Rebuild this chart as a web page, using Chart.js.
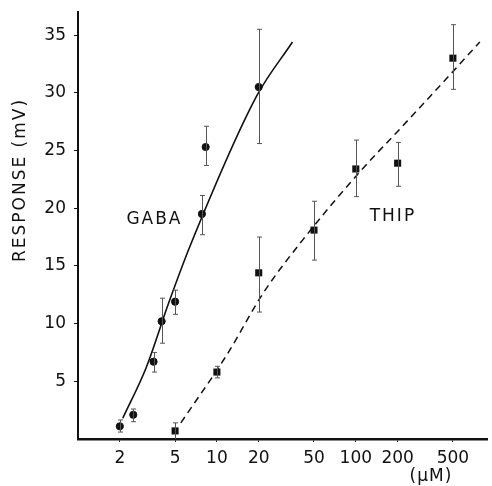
<!DOCTYPE html>
<html>
<head>
<meta charset="utf-8">
<script src="https://cdn.jsdelivr.net/npm/chart.js@4/dist/chart.umd.min.js"></script>
<style>
  html, body { margin: 0; padding: 0; background: #fff; }
  #wrap { width: 492px; height: 486px; position: relative; }
</style>
</head>
<body>
<div id="wrap"><canvas id="c"></canvas></div>
<script>
// GABA / THIP dose-response, log concentration axis
const xTicks = [2, 5, 10, 20, 50, 100, 200, 500];
const yTicks = [5, 10, 15, 20, 25, 30, 35];

const gabaConc = [2, 2.5, 3.5, 4, 5, 7.8, 8.3, 20];
const gabaResp = [1.1, 2.1, 6.7, 10.2, 11.9, 19.5, 25.3, 30.5];
const gabaLow  = [0.6, 1.5, 5.8, 8.3, 10.8, 17.7, 23.7, 25.6];
const gabaHigh = [1.65, 2.6, 7.5, 12.2, 12.9, 21.1, 27.1, 35.5];

const thipConc = [5, 10, 20, 50, 100, 200, 500];
const thipResp = [0.7, 5.8, 14.4, 18.1, 23.4, 23.9, 33.0];
const thipLow  = [0, 5.3, 11.0, 15.5, 21.0, 21.9, 30.3];
const thipHigh = [1.4, 6.3, 17.5, 20.6, 25.9, 25.7, 35.9];

// fitted curves
const gabaFitX = [2.1, 3.1, 4.5, 6.4, 19.3, 35];
const gabaFitY = [1.8, 6.2, 11.8, 16.7, 29.7, 34.4];
const thipFitX = [5.5, 11.8, 21.7, 41.8, 106, 209, 417, 781];
const thipFitY = [1.4, 7.3, 12.7, 17.3, 23.1, 26.9, 30.8, 34.4];

const pts = (xs, ys) => xs.map((x, i) => ({ x, y: ys[i] }));
const FONT = '"DejaVu Sans", "Liberation Sans", sans-serif';
const INK = '#111';

// error bars drawn from the low/high arrays
const errorBars = {
  id: 'errorBars',
  afterDatasetsDraw(chart) {
    const { ctx, scales: { x, y } } = chart;
    const sets = [
      [gabaConc, gabaLow, gabaHigh],
      [thipConc, thipLow, thipHigh]
    ];
    ctx.save();
    ctx.strokeStyle = '#555';
    ctx.lineWidth = 1;
    sets.forEach(([xs, lo, hi]) => {
      xs.forEach((v, i) => {
        const px = Math.round(x.getPixelForValue(v)) + 0.5;
        const y1 = y.getPixelForValue(lo[i]);
        const y2 = y.getPixelForValue(hi[i]);
        ctx.beginPath();
        ctx.moveTo(px, y1); ctx.lineTo(px, y2);
        ctx.moveTo(px - 2.5, y2); ctx.lineTo(px + 2.5, y2);
        if (lo[i] > 0) { ctx.moveTo(px - 2.5, y1); ctx.lineTo(px + 2.5, y1); }
        ctx.stroke();
      });
    });
    ctx.restore();
  }
};

// free text labels
const labels = {
  id: 'labels',
  afterDraw(chart) {
    const { ctx, scales: { x, y } } = chart;
    ctx.save();
    ctx.fillStyle = INK;
    ctx.font = '17px ' + FONT;
    ctx.letterSpacing = '2px';
    ctx.textAlign = 'center';
    ctx.textBaseline = 'middle';
    ctx.fillText('GABA', x.getPixelForValue(3.55), y.getPixelForValue(19));
    ctx.fillText('THIP', x.getPixelForValue(185), y.getPixelForValue(19.3));
    ctx.letterSpacing = '1px';
    ctx.fillText('(\u00b5M)', x.getPixelForValue(500) - 22, 477);
    ctx.letterSpacing = '2px';
    ctx.translate(21, 180);
    ctx.rotate(-Math.PI / 2);
    ctx.fillText('RESPONSE (mV)', 0, 0);
    ctx.restore();
  }
};

new Chart(document.getElementById('c'), {
  type: 'line',
  data: {
    datasets: [
      {
        label: 'GABA', data: pts(gabaConc, gabaResp), showLine: false,
        pointStyle: 'circle', pointRadius: 3.6, backgroundColor: INK, borderColor: INK
      },
      {
        label: 'THIP', data: pts(thipConc, thipResp), showLine: false,
        pointStyle: 'rect', pointRadius: 5, backgroundColor: INK, borderColor: INK, borderWidth: 0
      },
      {
        label: 'GABA fit', data: pts(gabaFitX, gabaFitY), pointRadius: 0,
        borderColor: INK, borderWidth: 1.6, cubicInterpolationMode: 'monotone'
      },
      {
        label: 'THIP fit', data: pts(thipFitX, thipFitY), pointRadius: 0,
        borderColor: INK, borderWidth: 1.5, borderDash: [7, 5], cubicInterpolationMode: 'monotone'
      }
    ]
  },
  options: {
    responsive: true,
    maintainAspectRatio: false,
    animation: false,
    layout: { padding: { top: 12, right: 2, left: 0, bottom: 0 } },
    plugins: { legend: { display: false }, tooltip: { enabled: false } },
    scales: {
      x: {
        type: 'logarithmic', min: 1, max: 880,
        afterBuildTicks: s => { s.ticks = xTicks.map(v => ({ value: v })); },
        afterFit: s => { s.height = 47; s.paddingLeft = 0; s.paddingRight = 0; },
        grid: { drawOnChartArea: false, tickLength: 3, color: INK },
        border: { color: INK, width: 2.5 },
        ticks: {
          color: INK, padding: 6, maxRotation: 0, autoSkip: false,
          font: { family: FONT, size: 17 },
          callback: v => String(v)
        }
      },
      y: {
        min: 0, max: 37,
        afterBuildTicks: s => { s.ticks = yTicks.map(v => ({ value: v })); },
        afterFit: s => { s.width = 78; s.paddingTop = 0; s.paddingBottom = 0; },
        grid: { drawOnChartArea: false, tickLength: 4, color: INK },
        border: { color: INK, width: 2 },
        ticks: {
          color: INK, padding: 8,
          font: { family: FONT, size: 17 }
        }
      }
    }
  },
  plugins: [errorBars, labels]
});
</script>
</body>
</html>
